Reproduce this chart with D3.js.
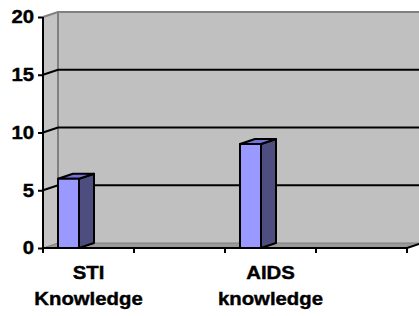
<!DOCTYPE html>
<html>
<head>
<meta charset="utf-8">
<script src="https://cdn.jsdelivr.net/npm/d3@7"></script>
<style>
  body { margin: 0; background: #fff; }
</style>
</head>
<body>
<div id="chart"></div>
<script>
const categories = ["STI Knowledge", "blank1", "AIDS knowledge", "blank2"];
const values = [6, null, 9, null];
const yTicks = [0, 5, 10, 15, 20];

const width = 419;
const height = 316;
const margin = { left: 43, right: 12, top: 17, bottom: 68 };
const depth = { dx: 15, dy: -5 };
const stretch = 1.13;
const fontSize = 18;
const fontFamily = "'Liberation Sans', Arial, sans-serif";

const svg = d3
  .select("#chart")
  .append("svg")
  .attr("width", width)
  .attr("height", height);

const xScale = d3
  .scaleBand()
  .domain(categories)
  .range([margin.left, width - margin.right])
  .padding(0);

const yScale = d3
  .scaleLinear()
  .domain([0, 20])
  .range([height - margin.bottom, margin.top]);

const x0 = margin.left;
const x1 = width - margin.right;
const yTop = yScale(20);
const yBot = yScale(0);

// walls
svg
  .append("rect")
  .attr("x", x0 + depth.dx)
  .attr("y", yTop + depth.dy)
  .attr("width", width - x0)
  .attr("height", yBot - yTop)
  .attr("fill", "#c0c0c0");

svg
  .append("polygon")
  .attr(
    "points",
    [
      [x0, yTop],
      [x0 + depth.dx, yTop + depth.dy],
      [x0 + depth.dx, yBot + depth.dy],
      [x0, yBot],
    ].join(" ")
  )
  .attr("fill", "#c4c4c4");

// floor
svg
  .append("polygon")
  .attr(
    "points",
    [
      [x0, yBot],
      [x0 + depth.dx, yBot + depth.dy],
      [x1 + depth.dx, yBot + depth.dy],
      [x1, yBot],
    ].join(" ")
  )
  .attr("fill", "#9a9a9a")
  .attr("stroke", "#808080")
  .attr("stroke-width", 1);

// wall edges
svg
  .append("path")
  .attr(
    "d",
    `M${x0},${yTop}L${x0 + depth.dx},${yTop + depth.dy}H${width}` +
      `M${x0 + depth.dx},${yTop + depth.dy}V${yBot + depth.dy}`
  )
  .attr("fill", "none")
  .attr("stroke", "#808080")
  .attr("stroke-width", 2);

// gridlines
svg
  .selectAll(".grid")
  .data(yTicks.filter((d) => d > 0 && d < 20))
  .join("path")
  .attr("class", "grid")
  .attr(
    "d",
    (d) =>
      `M${x0},${yScale(d)}L${x0 + depth.dx},${yScale(d) + depth.dy}H${width}`
  )
  .attr("fill", "none")
  .attr("stroke", "#000")
  .attr("stroke-width", 2);

// bars
const barW = 21;
const barOff = 15;
const bars = svg
  .selectAll(".bar")
  .data(categories.map((c, i) => ({ c, v: values[i] })).filter((d) => d.v != null))
  .join("g")
  .attr("class", "bar")
  .attr("stroke", "#000")
  .attr("stroke-width", 2)
  .attr("stroke-linejoin", "round");

bars.each((d, i, nodes) => {
  const g = d3.select(nodes[i]);
  const bx = xScale(d.c) + barOff;
  const by = yScale(d.v);
  g.append("polygon")
    .attr(
      "points",
      [
        [bx + barW, by],
        [bx + barW + depth.dx, by + depth.dy],
        [bx + barW + depth.dx, yBot + depth.dy],
        [bx + barW, yBot],
      ].join(" ")
    )
    .attr("fill", "#4d4d80");
  g.append("polygon")
    .attr(
      "points",
      [
        [bx, by],
        [bx + depth.dx, by + depth.dy],
        [bx + barW + depth.dx, by + depth.dy],
        [bx + barW, by],
      ].join(" ")
    )
    .attr("fill", "#7373d9");
  g.append("rect")
    .attr("x", bx)
    .attr("y", by)
    .attr("width", barW)
    .attr("height", yBot - by)
    .attr("fill", "#9999ff");
});

// y axis
const yAxis = svg
  .append("g")
  .attr("transform", `translate(${x0},0)`)
  .call(d3.axisLeft(yScale).tickValues(yTicks).tickSize(5).tickPadding(4));
yAxis.select(".domain").remove();
yAxis
  .append("line")
  .attr("y1", yTop)
  .attr("y2", yBot + 5)
  .attr("stroke", "#000")
  .attr("stroke-width", 2);
yAxis.selectAll(".tick line").attr("stroke-width", 2);
yAxis
  .selectAll(".tick text")
  .attr("font-family", fontFamily)
  .attr("font-weight", 700)
  .attr("font-size", fontSize)
  .attr("fill", "#000")
  .attr("stroke", "#000")
  .attr("stroke-width", 0.4)
  .attr("transform", `translate(-9,0) scale(${stretch},1)`)
  .attr("x", 0);

// x axis
svg
  .append("line")
  .attr("x1", x0)
  .attr("x2", x1)
  .attr("y1", yBot)
  .attr("y2", yBot)
  .attr("stroke", "#000")
  .attr("stroke-width", 2);

svg
  .selectAll(".xtick")
  .data(categories.map((c) => xScale(c) + xScale.bandwidth()))
  .join("line")
  .attr("class", "xtick")
  .attr("x1", (d) => d)
  .attr("x2", (d) => d)
  .attr("y1", yBot)
  .attr("y2", yBot + 5)
  .attr("stroke", "#000")
  .attr("stroke-width", 2);

svg
  .append("line")
  .attr("x1", x1)
  .attr("y1", yBot)
  .attr("x2", x1 + depth.dx)
  .attr("y2", yBot + depth.dy)
  .attr("stroke", "#000")
  .attr("stroke-width", 2);

// category labels
svg
  .selectAll(".xlabel")
  .data(categories.filter((c) => !c.startsWith("blank")))
  .join("text")
  .attr("class", "xlabel")
  .attr("font-family", fontFamily)
  .attr("font-weight", 700)
  .attr("font-size", fontSize)
  .attr("fill", "#000")
  .attr("stroke", "#000")
  .attr("stroke-width", 0.4)
  .attr("text-anchor", "middle")
  .attr(
    "transform",
    (d) =>
      `translate(${xScale(d) + xScale.bandwidth() / 2},279) scale(${stretch},1)`
  )
  .selectAll("tspan")
  .data((d) => d.split(" "))
  .join("tspan")
  .attr("x", 0)
  .attr("dy", (d, i) => (i ? 26 : 0))
  .text((d) => d);
</script>
</body>
</html>
